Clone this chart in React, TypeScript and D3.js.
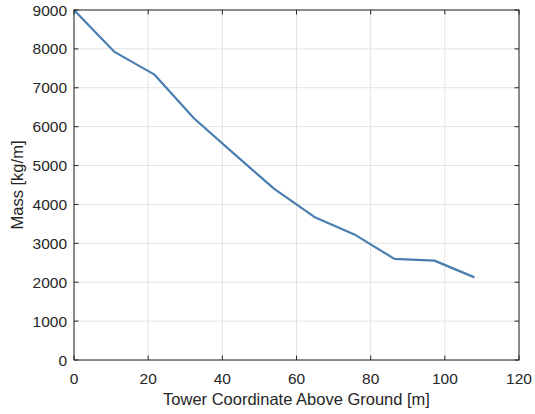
import React from "react";
import * as d3 from "d3";

const heights = [0, 10.8, 21.6, 32.4, 43.2, 54, 64.8, 75.6, 86.4, 97.2, 108];
const masses = [9000, 7930, 7345, 6210, 5300, 4400, 3680, 3230, 2600, 2555, 2125];
const xTicks = [0, 20, 40, 60, 80, 100, 120];
const yTicks = [0, 1000, 2000, 3000, 4000, 5000, 6000, 7000, 8000, 9000];

const W = 535, H = 414;
const M = { left: 74, right: 16, top: 10, bottom: 54 };

export default function App() {
  const x = d3.scaleLinear().domain([0, 120]).range([M.left, W - M.right]);
  const y = d3.scaleLinear().domain([0, 9000]).range([H - M.bottom, M.top]);
  const line = d3.line<number>().x((_, i) => x(heights[i])).y((d) => y(d));
  const font = "Liberation Sans, Arial, Helvetica, sans-serif";
  const axisColor = "#262626";
  const tl = 4.5;
  const fsTick = 15.5;
  const fsLabel = 16.5;
  const x0 = x(0), x1 = x(120), y0 = y(0), y1 = y(9000);
  return (
    <svg width={W} height={H} style={{ position: "absolute", left: 0, top: 0, background: "#fff" }} fontFamily={font}>
      <rect x={0} y={0} width={W} height={H} fill="#fff" />
      {xTicks.map((t) => (
        <line key={"gx" + t} x1={x(t)} x2={x(t)} y1={y0} y2={y1} stroke="#e3e3e3" strokeWidth={1} />
      ))}
      {yTicks.map((t) => (
        <line key={"gy" + t} x1={x0} x2={x1} y1={y(t)} y2={y(t)} stroke="#e3e3e3" strokeWidth={1} />
      ))}
      <path d={line(masses) || ""} fill="none" stroke="#4a7eb0" strokeWidth={2.2} strokeLinejoin="round" />
      <rect x={x0} y={y1} width={x1 - x0} height={y0 - y1} fill="none" stroke={axisColor} strokeWidth={1} />
      {xTicks.map((t) => (
        <g key={"tx" + t}>
          <line x1={x(t)} x2={x(t)} y1={y0} y2={y0 - tl} stroke={axisColor} />
          <line x1={x(t)} x2={x(t)} y1={y1} y2={y1 + tl} stroke={axisColor} />
          <text x={x(t)} y={y0 + 24} textAnchor="middle" fontSize={fsTick} fill={axisColor}>{t}</text>
        </g>
      ))}
      {yTicks.map((t) => (
        <g key={"ty" + t}>
          <line x1={x0} x2={x0 + tl} y1={y(t)} y2={y(t)} stroke={axisColor} />
          <line x1={x1} x2={x1 - tl} y1={y(t)} y2={y(t)} stroke={axisColor} />
          <text x={x0 - 7} y={y(t) + 5.5} textAnchor="end" fontSize={fsTick} fill={axisColor}>{t}</text>
        </g>
      ))}
      <text x={(x0 + x1) / 2} y={405} textAnchor="middle" fontSize={fsLabel} fill={axisColor}>
        Tower Coordinate Above Ground [m]
      </text>
      <text transform={`translate(23, ${(y0 + y1) / 2}) rotate(-90)`} textAnchor="middle" fontSize={fsLabel} fill={axisColor}>
        Mass [kg/m]
      </text>
    </svg>
  );
}
